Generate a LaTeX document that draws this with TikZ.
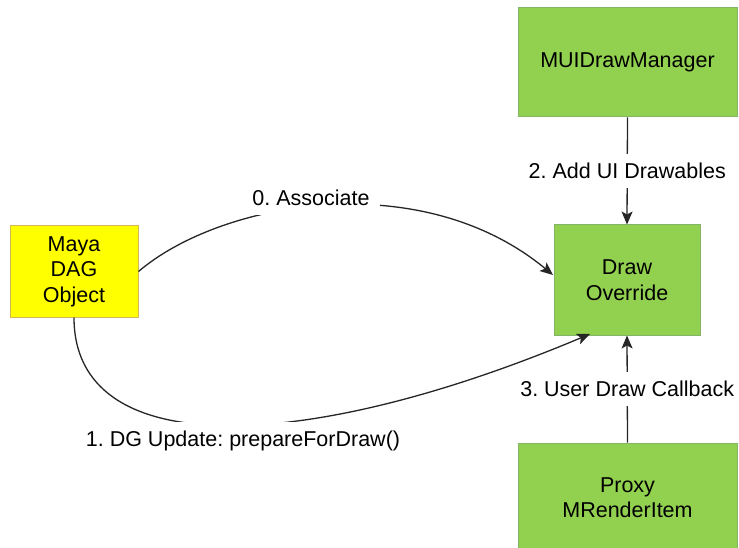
\documentclass[tikz,border=0pt]{standalone}
\usepackage{fontspec}
\setmainfont{Liberation Sans}
\usetikzlibrary{arrows.meta}
\definecolor{boxgreen}{RGB}{146,208,80}
\definecolor{boxgreenline}{RGB}{130,179,102}
\definecolor{mayayellow}{RGB}{255,255,0}
\definecolor{mayaline}{RGB}{214,182,86}
\frenchspacing
\begin{document}
\begin{tikzpicture}[x=1pt,y=-1pt,
  every node/.style={font=\fontsize{21.5}{25.5}\selectfont, align=center},
  greenbox/.style={draw=boxgreenline, fill=boxgreen, line width=1pt, inner sep=0pt},
  mayabox/.style={draw=mayaline, fill=mayayellow, line width=1pt, inner sep=0pt},
  conn/.style={line width=1.3pt, draw=black!85, -{Stealth[length=13pt,width=11pt,inset=3pt]}},
  lbl/.style={fill=white, inner xsep=10pt, inner ysep=9pt}]
\clip (0,0) rectangle (739,548);
\fill[white] (0,0) rectangle (739,548);
\node[greenbox, minimum width=219pt, minimum height=109pt] (mui) at (627.5,62.5) {MUIDrawManager};
\node[greenbox, minimum width=146pt, minimum height=110pt] (draw) at (627,280) {Draw\\Override};
\node[greenbox, minimum width=219pt, minimum height=109pt] (proxy) at (627.5,497.5) {Proxy\\MRenderItem};
\node[mayabox, minimum width=128pt, minimum height=91pt] (maya) at (74,271.5) {Maya\\DAG\\Object};
\coordinate (assocEnd) at (553,275);
\coordinate (dgEnd) at (590,334);
\draw[conn] (maya.east) .. controls +(82,-70) and +(-133,-110) .. (assocEnd);
\node[lbl] (assoc) at (311,198) {0.\ Associate};
\draw[conn] (maya.south) .. controls +(0,143) and +(-290,122) .. (dgEnd);
\node[lbl] (dg) at (243,441) {1.\ DG Update:\ prepareForDraw()};
\draw[conn] (mui.south) -- node[lbl] (addui) {2.\ Add UI Drawables} (draw.north);
\draw[conn] (proxy.north) -- node[lbl] (cb) {3.\ User Draw Callback} (draw.south);
\end{tikzpicture}
\end{document}
